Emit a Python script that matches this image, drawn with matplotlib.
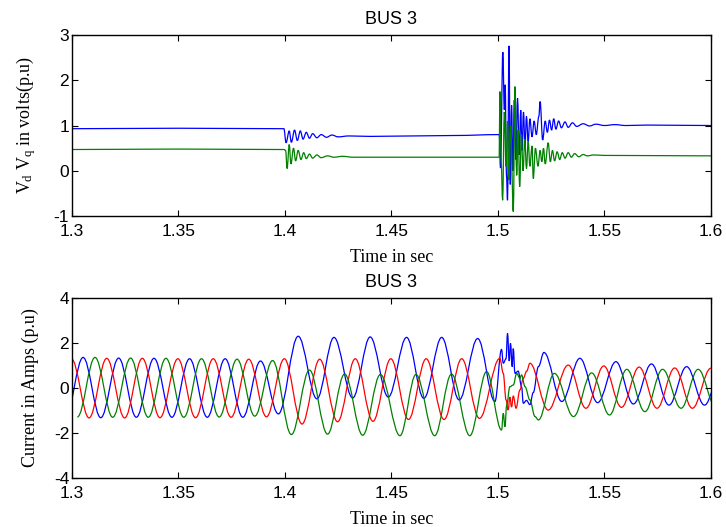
import numpy as np
import matplotlib
matplotlib.use("Agg")
import matplotlib.pyplot as plt
from matplotlib.path import Path
from matplotlib.patches import PathPatch

plt.rcParams["font.family"] = ["Liberation Sans", "DejaVu Sans"]
plt.rcParams["mathtext.fontset"] = "custom"
plt.rcParams["mathtext.rm"] = "Liberation Serif"
plt.rcParams["mathtext.it"] = "Liberation Serif"
plt.rcParams["axes.unicode_minus"] = False

# ---- top panel: Vd / Vq (p.u), extrema ----
vd_t = [1.2990, 1.3500, 1.3995, 1.4005, 1.4020, 1.4030, 1.4045, 1.4058, 1.4072,
        1.4085, 1.4100, 1.4115, 1.4130, 1.4150, 1.4170, 1.4195, 1.4220, 1.4250,
        1.4300, 1.4400, 1.4600, 1.4800, 1.5006, 1.5012, 1.5023, 1.5030, 1.5034,
        1.5040, 1.5045, 1.5052, 1.5058, 1.5064, 1.5070, 1.5077, 1.5084, 1.5092,
        1.5100, 1.5107, 1.5113, 1.5120, 1.5127, 1.5134, 1.5142, 1.5150, 1.5160,
        1.5170, 1.5180, 1.5192, 1.5198, 1.5210, 1.5222, 1.5232, 1.5242, 1.5252,
        1.5262, 1.5272, 1.5285, 1.5298, 1.5315, 1.5330, 1.5350, 1.5370, 1.5400,
        1.5430, 1.5460, 1.5500, 1.5550, 1.5600, 1.5700, 1.6010]
vd_v = [0.93, 0.94, 0.93, 0.62, 0.88, 0.63, 0.90, 0.67, 0.88,
        0.70, 0.85, 0.72, 0.82, 0.73, 0.80, 0.74, 0.79, 0.75,
        0.77, 0.76, 0.77, 0.78, 0.80, 0.06, 2.62, 1.35, 1.90,
        -0.10, -0.65, 2.76, -0.30, 1.45, 0.00, 1.56, 0.25, 1.60,
        0.35, 1.34, 0.45, 1.30, 0.55, 1.20, 0.65, 1.15, 0.75,
        1.10, 0.80, 1.20, 1.53, 0.68, 1.10, 0.85, 1.12, 0.90,
        1.15, 0.92, 1.10, 0.95, 1.08, 0.96, 1.06, 0.98, 1.04,
        0.99, 1.03, 1.00, 1.02, 1.00, 1.01, 1.00]

vq_t = [1.2990, 1.3500, 1.3995, 1.4003, 1.4010, 1.4020, 1.4028, 1.4040, 1.4050,
        1.4062, 1.4075, 1.4088, 1.4100, 1.4115, 1.4130, 1.4150, 1.4170, 1.4200,
        1.4230, 1.4270, 1.4320, 1.4500, 1.5006, 1.5009, 1.5015, 1.5022, 1.5030,
        1.5038, 1.5045, 1.5052, 1.5060, 1.5072, 1.5080, 1.5088, 1.5095, 1.5102,
        1.5110, 1.5118, 1.5126, 1.5134, 1.5142, 1.5150, 1.5160, 1.5166, 1.5176,
        1.5188, 1.5198, 1.5206, 1.5214, 1.5222, 1.5236, 1.5246, 1.5256, 1.5266,
        1.5278, 1.5290, 1.5302, 1.5315, 1.5330, 1.5345, 1.5360, 1.5380, 1.5400,
        1.5420, 1.5450, 1.5500, 1.6010]
vq_v = [0.47, 0.48, 0.47, 0.45, 0.05, 0.58, 0.15, 0.50, 0.22,
        0.45, 0.25, 0.40, 0.27, 0.37, 0.28, 0.35, 0.29, 0.33,
        0.30, 0.32, 0.30, 0.30, 0.30, 1.75, 0.20, -0.65, 1.30,
        0.10, 1.10, -0.20, 1.00, -0.90, 1.86, -0.10, 0.90, -0.35,
        0.80, 0.00, 0.70, 0.05, 0.65, 0.10, 0.55, -0.17, 0.50,
        0.10, 0.45, 0.20, 0.50, 0.15, 0.62, 0.20, 0.45, 0.22,
        0.42, 0.25, 0.40, 0.28, 0.40, 0.30, 0.38, 0.31, 0.36,
        0.33, 0.35, 0.34, 0.33]

# ---- bottom panel: phase currents (p.u), extrema ----
ia_t = [1.2997, 1.3080, 1.3163, 1.3247, 1.3330, 1.3413, 1.3497, 1.3580, 1.3663,
        1.3747, 1.3830, 1.3913, 1.3997, 1.4080, 1.4163, 1.4247, 1.4330, 1.4413,
        1.4497, 1.4580, 1.4663, 1.4747, 1.4830, 1.4913, 1.5009, 1.5025, 1.5038,
        1.5048, 1.5056, 1.5064, 1.5072, 1.5085, 1.5103, 1.5119, 1.5135, 1.5150,
        1.5236, 1.5330, 1.5413, 1.5497, 1.5580, 1.5663, 1.5747, 1.5830, 1.5913,
        1.6000, 1.6080]
ia_v = [1.30, -1.33, 1.32, -1.33, 1.32, -1.32, 1.30, -1.32, 1.30,
        -1.30, 1.28, -1.28, 1.30, -1.60, 1.28, -1.50, 1.30, -1.48,
        1.30, -1.40, 1.30, -1.40, 1.30, -1.35, 1.32, 0.65, -0.53,
        -0.98, -0.40, -0.85, -0.35, -0.90, -0.09, 0.43, 0.75, 1.10,
        -0.98, 1.02, -0.90, 0.98, -0.86, 0.93, -0.90, 0.89, -0.90,
        0.88, -0.90]

ib_t = [1.2969, 1.3052, 1.3135, 1.3219, 1.3302, 1.3385, 1.3469, 1.3552, 1.3635,
        1.3719, 1.3802, 1.3885, 1.3969, 1.4062, 1.4150, 1.4230, 1.4318, 1.4400,
        1.4485, 1.4571, 1.4652, 1.4736, 1.4818, 1.4905, 1.4986, 1.5017, 1.5025,
        1.5038, 1.5045, 1.5053, 1.5059, 1.5067, 1.5072, 1.5080, 1.5095, 1.5111,
        1.5119, 1.5134, 1.5150, 1.5166, 1.5190, 1.5216, 1.5300, 1.5385, 1.5468,
        1.5554, 1.5636, 1.5721, 1.5803, 1.5886, 1.5970, 1.6053]
ib_v = [-1.30, 1.36, -1.32, 1.33, -1.30, 1.32, -1.30, 1.30, -1.30,
        1.30, -1.30, 1.20, -1.15, 2.30, -0.48, 2.25, -0.44, 2.27,
        -0.40, 2.25, -0.46, 2.25, -0.53, 2.20, -0.60, 1.72, 1.10,
        1.30, 2.43, 1.20, 1.99, 0.95, 1.75, 0.65, 0.75, 0.06,
        -0.68, -0.55, -0.74, -0.20, 0.95, 1.58, -0.60, 1.32, -0.65,
        1.17, -0.71, 1.07, -0.76, 0.95, -0.76, 0.95]

ic_t = [1.3025, 1.3108, 1.3191, 1.3275, 1.3358, 1.3441, 1.3525, 1.3608, 1.3691,
        1.3775, 1.3858, 1.3942, 1.4030, 1.4115, 1.4200, 1.4280, 1.4365, 1.4448,
        1.4540, 1.4615, 1.4703, 1.4782, 1.4868, 1.4947, 1.5017, 1.5025, 1.5033,
        1.5041, 1.5056, 1.5072, 1.5088, 1.5103, 1.5111, 1.5127, 1.5150, 1.5174,
        1.5190, 1.5265, 1.5355, 1.5440, 1.5524, 1.5605, 1.5690, 1.5773, 1.5860,
        1.5940, 1.6025]
ic_v = [-1.29, 1.36, -1.30, 1.33, -1.30, 1.32, -1.30, 1.30, -1.29,
        1.28, -1.25, 1.22, -2.07, 0.80, -2.05, 0.62, -2.10, 0.60,
        -2.12, 0.60, -2.12, 0.62, -2.12, 0.73, -1.87, -1.13, -1.72,
        -0.76, 0.06, 0.13, 0.65, 0.43, 0.58, 0.06, -0.53, -1.27,
        -1.42, 0.65, -1.27, 0.67, -1.20, 0.83, -1.05, 0.83, -0.90,
        0.83, -0.90]

x_ticks = [1.3, 1.35, 1.4, 1.45, 1.5, 1.55, 1.6]
x_labels = ["1.3", "1.35", "1.4", "1.45", "1.5", "1.55", "1.6"]

BLUE, GREEN, RED = "#0000ff", "#008000", "#ff0000"


def smooth(ax, t, v, color):
    # cubic segments with flat tangents at each read extremum
    k = 0.3642
    verts = [(t[0], v[0])]
    codes = [Path.MOVETO]
    for i in range(len(t) - 1):
        dt = t[i + 1] - t[i]
        verts += [(t[i] + k * dt, v[i]), (t[i + 1] - k * dt, v[i + 1]), (t[i + 1], v[i + 1])]
        codes += [Path.CURVE4] * 3
    ax.add_patch(PathPatch(Path(verts, codes), fill=False, edgecolor=color, lw=0.9))


def style(ax, yticks, ylabel):
    ax.set_xlim(1.3, 1.6)
    ax.set_xticks(x_ticks)
    ax.set_xticklabels(x_labels)
    ax.set_yticks(yticks)
    ax.set_ylim(yticks[0], yticks[-1])
    ax.tick_params(direction="in", top=True, right=True, length=4, width=0.8,
                   labelsize=12.5)
    ax.tick_params(axis="x", pad=6)
    ax.tick_params(axis="y", pad=2)
    for s in ax.spines.values():
        s.set_linewidth(1.0)
    ax.set_title("BUS 3", fontsize=13, pad=8)
    ax.set_xlabel("Time in sec", family="Liberation Serif", fontsize=13, labelpad=7)
    ax.set_ylabel(ylabel, family="Liberation Serif", fontsize=13, labelpad=11)


fig = plt.figure(figsize=(7.26, 5.27), dpi=100)
ax1 = fig.add_axes([0.0992, 0.590, 0.880, 0.3436])
ax2 = fig.add_axes([0.0992, 0.0930, 0.880, 0.3415])

smooth(ax1, vd_t, vd_v, BLUE)
smooth(ax1, vq_t, vq_v, GREEN)
style(ax1, [-1, 0, 1, 2, 3], r"$V_d$ $V_q$ in volts(p.u)")

smooth(ax2, ib_t, ib_v, BLUE)
smooth(ax2, ia_t, ia_v, RED)
smooth(ax2, ic_t, ic_v, GREEN)
style(ax2, [-4, -2, 0, 2, 4], "Current in Amps (p.u)")

fig.savefig("out.png", dpi=100)
